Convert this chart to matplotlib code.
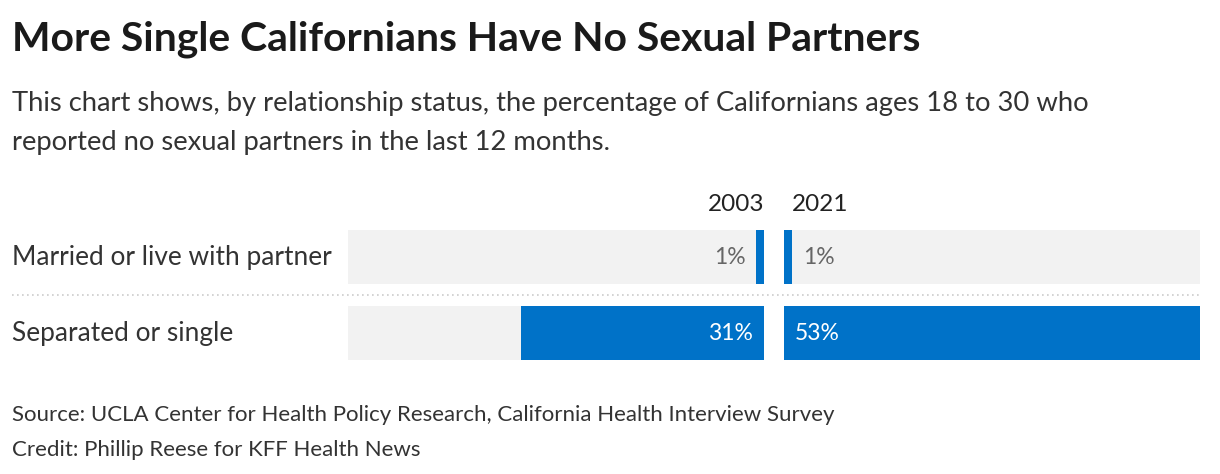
import matplotlib.pyplot as plt
from matplotlib.lines import Line2D
from matplotlib.transforms import blended_transform_factory

plt.rcParams['font.family'] = ['Lato', 'DejaVu Sans']

categories = ["Married or live with partner", "Separated or single"]
years = ["2003", "2021"]
values_2003 = [1, 31]
values_2021 = [1, 53]

BLUE = "#0072c8"
GREY_BG = "#f2f2f2"
W, H = 1220, 474

fig = plt.figure(figsize=(W / 100, H / 100), dpi=100)

def px_axes(x0, x1, ytop, ybot):
    return fig.add_axes([x0 / W, 1 - ybot / H, (x1 - x0) / W, (ybot - ytop) / H])

xmax = max(values_2003 + values_2021)
ax1 = px_axes(348, 764, 219, 371)
ax2 = px_axes(784, 1200, 219, 371)

rows = range(len(categories))
for ax, vals, year, left in [(ax1, values_2003, years[0], True), (ax2, values_2021, years[1], False)]:
    ax.barh(rows, [xmax] * len(vals), height=0.71, color=GREY_BG)
    ax.barh(rows, vals, height=0.71, color=BLUE)
    ax.set_ylim(len(categories) - 0.5, -0.5)
    if left:
        ax.set_xlim(xmax, 0)
    else:
        ax.set_xlim(0, xmax)
    ax.axis("off")
    for i, v in enumerate(vals):
        if v > 5:
            ax.text(xmax * 0.026, i, f"{v}%", ha="right" if left else "left", va="center",
                    fontsize=16.5, color="white")
        else:
            ax.text(v + xmax * 0.026, i, f"{v}%", ha="right" if left else "left", va="center",
                    fontsize=16.5, color="#666666")
    tr = blended_transform_factory(ax.transData, ax.transAxes)
    ax.text(0 if left else xmax * 0.019, 1.025, year, transform=tr,
            ha="right" if left else "left", va="bottom", fontsize=17.5, color="#222222")

for i, cat in enumerate(categories):
    fig.text(12 / W, 1 - (257 + 76 * i) / H, cat, ha="left", va="center",
             fontsize=18.9, color="#333333")

fig.add_artist(Line2D([12 / W, 1200 / W], [1 - 295 / H] * 2, color="#cccccc",
                      lw=1.2, linestyle=(0, (1, 2))))

fig.text(12 / W, 1 - 39 / H, "More Single Californians Have No Sexual Partners",
         ha="left", va="center", fontsize=29.4, fontweight="bold", color="#1a1a1a")
fig.text(12 / W, 1 - 123 / H,
         "This chart shows, by relationship status, the percentage of Californians ages 18 to 30 who\n"
         "reported no sexual partners in the last 12 months.",
         ha="left", va="center", fontsize=19.7, color="#333333", linespacing=1.68)
fig.text(12 / W, 1 - 415 / H,
         "Source: UCLA Center for Health Policy Research, California Health Interview Survey",
         ha="left", va="center", fontsize=16, color="#333333")
fig.text(12 / W, 1 - 450 / H, "Credit: Phillip Reese for KFF Health News",
         ha="left", va="center", fontsize=16, color="#333333")

fig.savefig("out.png", dpi=100)
